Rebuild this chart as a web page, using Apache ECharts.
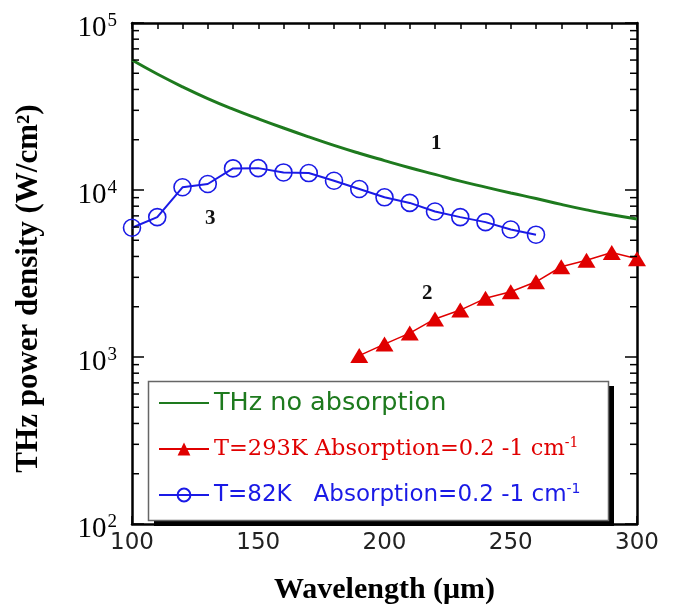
<!DOCTYPE html>
<html>
<head>
<meta charset="utf-8">
<script src="https://cdn.jsdelivr.net/npm/echarts@6/dist/echarts.min.js"></script>
<style>html,body{margin:0;padding:0;background:#fff}#c{width:693px;height:610px}</style>
</head>
<body>
<div id="c"></div>
<script>
// ---- data ----
const greenX = [100,110,120,130,140,150,160,170,180,190,200,210,220,230,240,250,260,270,280,290,300];
const greenY = [60000,49500,41500,35300,30500,26700,23500,20800,18500,16600,15000,13600,12400,11300,10400,9600,8900,8200,7600,7100,6700];
const blueX = [100,110,120,130,140,150,160,170,180,190,200,210,220,230,240,250,260];
const blueY = [5940,6880,10380,10860,13470,13520,12740,12630,11360,10140,9040,8370,7430,6880,6420,5800,5400];
const redX = [190,200,210,220,230,240,250,260,270,280,290,300];
const redY = [1020,1195,1390,1690,1910,2245,2460,2820,3470,3800,4220,3880];
const seriesNames = ['THz no absorption','T=293K Absorption=0.2 -1 cm','T=82K   Absorption=0.2 -1 cm'];
const yTickLabels = {100:'2',1000:'3',10000:'4',100000:'5'};
const xTickLabels = {100:'100',150:'150',200:'200',250:'250',300:'300'};
const minorY = [200,300,400,500,600,700,800,900,2000,3000,4000,5000,6000,7000,8000,9000,20000,30000,40000,50000,60000,70000,80000,90000];
const curveLabels = [{t:'1',x:437,y:145},{t:'2',x:428,y:295},{t:'3',x:211,y:220}];

const GREEN = '#1e7a1e', RED = '#e00000', BLUE = '#1a1ae6';
const zip = (a,b) => a.map((v,i)=>[v,b[i]]);

const chart = echarts.init(document.getElementById('c'), null, {renderer:'canvas'});

const axisLine = {show:true, lineStyle:{color:'#000', width:2.5}};
const option = {
  animation:false,
  backgroundColor:'#fff',
  grid:{left:132, right:56, top:23, bottom:82, containLabel:false},
  xAxis:[
    {type:'value', min:100, max:300, interval:50, position:'bottom',
     axisLine:axisLine,
     axisTick:{show:true, inside:true, length:8, lineStyle:{color:'#000', width:1.5}},
     splitLine:{show:false},
     axisLabel:{formatter:v=>xTickLabels[v]||'', fontFamily:'DejaVu Sans', fontSize:23, color:'#222', margin:8},
     name:'Wavelength (\u03bcm)', nameLocation:'middle', nameGap:51,
     nameTextStyle:{fontFamily:'Liberation Serif', fontWeight:'bold', fontSize:30, color:'#000'}},
    {type:'value', min:100, max:300, interval:10, position:'top',
     axisLine:axisLine,
     axisTick:{show:true, inside:true, length:6, lineStyle:{color:'#000', width:1.5}},
     splitLine:{show:false}, axisLabel:{show:false}}
  ],
  yAxis:[
    {type:'log', logBase:10, min:100, max:100000, position:'left',
     axisLine:axisLine,
     axisTick:{show:true, inside:true, length:12, lineStyle:{color:'#000', width:1.5}},
     splitLine:{show:false},
     axisLabel:{margin:15, padding:[10,0,0,0], formatter:v=>'{b|10}{s|'+(yTickLabels[Math.round(v)]||'')+'}',
       rich:{b:{fontFamily:'Liberation Serif', fontSize:29, color:'#000'},
             s:{fontFamily:'Liberation Serif', fontSize:19, color:'#000', padding:[0,0,14,1]}}},
     name:'THz power density (W/cm\u00b2)', nameLocation:'middle', nameGap:88, nameRotate:90,
     nameTextStyle:{fontFamily:'Liberation Serif', fontWeight:'bold', fontSize:31, color:'#000', padding:[0,30,0,0]}},
    {type:'log', logBase:10, min:100, max:100000, position:'right',
     axisLine:axisLine,
     axisTick:{show:true, inside:true, length:12, lineStyle:{color:'#000', width:1.5}},
     splitLine:{show:false}, axisLabel:{show:false}}
  ],
  legend:{
    orient:'vertical', left:158, top:388, z:10,
    backgroundColor:'rgba(0,0,0,0)', borderWidth:0,
    padding:0, itemGap:16, itemWidth:50, itemHeight:16,
    data:[
      {name:seriesNames[0], itemStyle:{color:'rgba(0,0,0,0)', borderWidth:0}, textStyle:{color:GREEN, fontFamily:'DejaVu Sans', fontSize:25.5, lineHeight:30}},
      {name:seriesNames[1], textStyle:{color:RED, fontFamily:'DejaVu Serif', fontSize:22.5, lineHeight:30}},
      {name:seriesNames[2], textStyle:{color:BLUE, fontFamily:'DejaVu Sans', fontSize:23, lineHeight:30}}
    ],
    formatter:function(n){
      if(n===seriesNames[1]) return '{r|'+n+'}{rs|-1}';
      if(n===seriesNames[2]) return '{b|'+n+'}{bs|-1}';
      return n;
    },
    textStyle:{rich:{
      r:{color:RED, fontFamily:'DejaVu Serif', fontSize:22.5, lineHeight:30},
      rs:{color:RED, fontFamily:'DejaVu Serif', fontSize:14, lineHeight:16, padding:[0,0,12,0]},
      b:{color:BLUE, fontFamily:'DejaVu Sans', fontSize:23, lineHeight:30},
      bs:{color:BLUE, fontFamily:'DejaVu Sans', fontSize:14, lineHeight:16, padding:[0,0,12,0]}
    }}
  },
  series:[
    {name:seriesNames[0], type:'line', data:zip(greenX,greenY), smooth:true, showSymbol:false,
     symbol:'none', lineStyle:{color:GREEN, width:3}, itemStyle:{color:GREEN}, z:2},
    {name:seriesNames[1], type:'line', data:zip(redX,redY), symbol:'triangle', symbolSize:[18,15],
     lineStyle:{color:RED, width:1.5}, itemStyle:{color:RED}, z:3},
    {name:seriesNames[2], type:'line', data:zip(blueX,blueY), symbol:'circle', symbolSize:17,
     lineStyle:{color:BLUE, width:2}, itemStyle:{color:'rgba(255,255,255,0)', borderColor:BLUE, borderWidth:1.6}, z:3},
    {name:'minorY', type:'custom', data:minorY.map(v=>[v]), silent:true, z:5,
     dimensions:['v'], encode:{y:0},
     renderItem:function(params, api){
       const yv = api.value(0);
       const pl = api.coord([100, yv]);
       const pr = api.coord([300, yv]);
       return {type:'group', children:[
         {type:'line', shape:{x1:pl[0], y1:pl[1], x2:pl[0]+7, y2:pl[1]}, style:{stroke:'#000', lineWidth:1.5}},
         {type:'line', shape:{x1:pr[0], y1:pr[1], x2:pr[0]-7, y2:pr[1]}, style:{stroke:'#000', lineWidth:1.5}}
       ]};
     }}
  ],
  graphic: [
    {type:'rect', z:4, shape:{x:154, y:386, width:460, height:140}, style:{fill:'#000'}},
    {type:'rect', z:5, shape:{x:148.5, y:381.5, width:460, height:139}, style:{fill:'#fff', stroke:'#666', lineWidth:1.5}}
  ].concat(curveLabels.map(c=>({type:'text', left:c.x-6, top:c.y-12, z:10,
    style:{text:c.t, fontFamily:'Liberation Serif', fontWeight:'bold', fontSize:21, fill:'#111'}})))
};
chart.setOption(option);
</script>
</body>
</html>
